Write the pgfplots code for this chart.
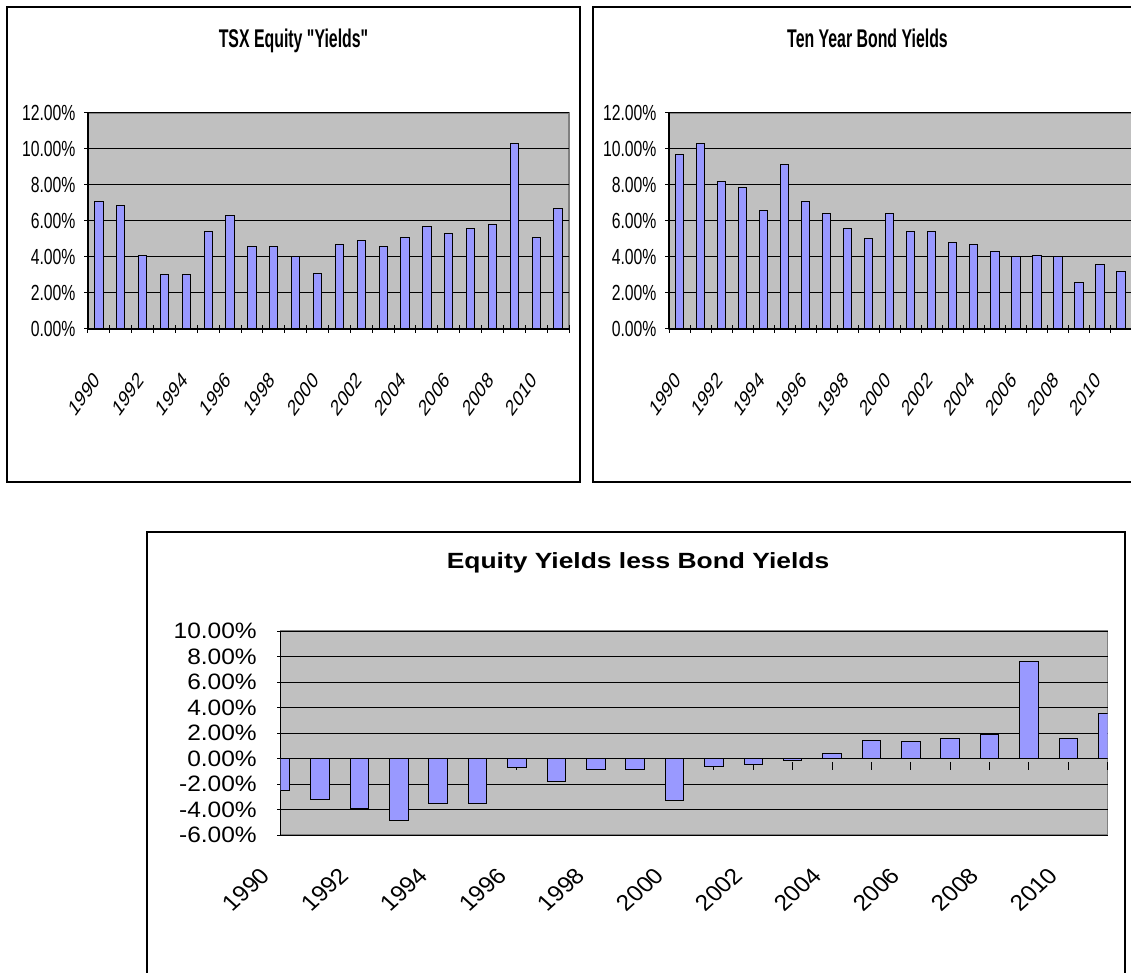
\documentclass[border=0pt]{standalone}
\usepackage{pgfplots}
\pgfplotsset{compat=1.18}
\usepackage{fontspec}
\setmainfont{Liberation Sans}
\newfontfamily\narrowfont[FakeStretch=0.72]{Liberation Sans}
\newfontfamily\titlenarrow[FakeStretch=0.62]{Liberation Sans}
\newfontfamily\widefont[FakeStretch=1.1]{Liberation Sans}
\newfontfamily\titlewide[FakeStretch=1.2]{Liberation Sans}
\definecolor{plotbg}{HTML}{C0C0C0}
\definecolor{barblue}{HTML}{9999FF}
\definecolor{bordergray}{HTML}{808080}

\pgfplotsset{
  excel/.style={
    scale only axis,
    axis background/.style={fill=plotbg, draw=bordergray, line width=1.1pt},
    axis line style={-, black, line width=0.9pt},
    ymajorgrids, grid style={black, line width=0.75pt},
    tick align=outside,
    tick style={black, line width=0.75pt},
    major tick length=5.5pt,
    hide obscured x ticks=false,
    hide obscured y ticks=false,
  },
  topchart/.style={
    excel,
    axis lines=left, axis line style={-},
    xmin=-0.5, xmax=21.5, ymin=0, ymax=12,
    xtick={-0.5,0.5,...,21.5}, xticklabels={},
    extra x ticks={0,2,...,20},
    extra x tick labels={1990,1992,1994,1996,1998,2000,2002,2004,2006,2008,2010},
    extra x tick style={major tick length=0pt},
    xticklabel style={font=\fontsize{16.8}{18}\selectfont, xshift=-4.5pt, yshift=-31pt, xscale=0.72, rotate=45, anchor=north east, inner sep=0pt},
    ytick={0,2,...,12},
    yticklabels={0.00\%,2.00\%,4.00\%,6.00\%,8.00\%,10.00\%,12.00\%},
    yticklabel style={font=\narrowfont\fontsize{16.4}{18}\selectfont, anchor=east, inner sep=0pt, xshift=-6.5pt},
  },
}

\begin{document}
\begin{tikzpicture}[x=0.75pt,y=0.75pt]
\useasboundingbox (0,0) rectangle (1131,972);
\clip (0,0) rectangle (1131,972);

% frames
\draw[line width=1.6pt] (7,965) rectangle (580,490);
\draw[line width=1.6pt] (593,965) rectangle (1142,490);
\draw[line width=1.6pt] (147,440) rectangle (1125,-30);

% titles
\node[anchor=base, inner sep=0pt, font=\titlenarrow\bfseries\fontsize{19.2}{22}\selectfont] at (293.5,924) {TSX Equity "Yields"};
\node[anchor=base, inner sep=0pt, font=\titlenarrow\bfseries\fontsize{19.2}{22}\selectfont] at (867.5,924) {Ten Year Bond Yields};
\node[anchor=base, inner sep=0pt, font=\titlewide\bfseries\fontsize{16.5}{19}\selectfont] at (638,403.7) {Equity Yields less Bond Yields};

% TSX equity yields
\begin{axis}[topchart, at={(66pt,482.25pt)}, anchor=south west, width=360.75pt, height=162pt]
\addplot[ybar, bar width=0.38, fill=barblue, draw=black, line width=0.75pt] coordinates {
(0,7.10) (1,6.87) (2,4.09) (3,3.00) (4,3.00) (5,5.44) (6,6.33) (7,4.56) (8,4.56) (9,4.00) (10,3.09)
(11,4.67) (12,4.91) (13,4.56) (14,5.11) (15,5.67) (16,5.33) (17,5.56) (18,5.78) (19,10.33) (20,5.11) (21,6.67)};
\end{axis}

% Ten year bond yields
\begin{axis}[topchart, at={(501.75pt,482.25pt)}, anchor=south west, width=346.7pt, height=162pt]
\addplot[ybar, bar width=0.41, fill=barblue, draw=black, line width=0.75pt] coordinates {
(0,9.67) (1,10.31) (2,8.22) (3,7.87) (4,6.57) (5,9.13) (6,7.11) (7,6.44) (8,5.56) (9,5.00) (10,6.44)
(11,5.44) (12,5.44) (13,4.78) (14,4.67) (15,4.33) (16,4.00) (17,4.11) (18,4.00) (19,2.56) (20,3.56) (21,3.22)};
\end{axis}

% Difference
\begin{axis}[excel, at={(210.525pt,102.75pt)}, anchor=south west, width=620.25pt, height=153pt,
  axis x line=middle, axis y line=left, axis line style={-},
  xmin=0, xmax=21, ymin=-6, ymax=10,
  xtick={0,...,21},
  xtick style={yshift=-5.5pt},
  xticklabels={1990,,1992,,1994,,1996,,1998,,2000,,2002,,2004,,2006,,2008,,2010,},
  xticklabel style={font=\fontsize{16.7}{19}\selectfont, xshift=-16pt, yshift=-77.8pt, xscale=1.1, rotate=45, anchor=north east, inner sep=0pt},
  ytick={-6,-4,...,10},
  yticklabels={-6.00\%,-4.00\%,-2.00\%,0.00\%,2.00\%,4.00\%,6.00\%,8.00\%,10.00\%},
  yticklabel style={font=\widefont\fontsize{16.7}{19}\selectfont, anchor=east, inner sep=0pt, xshift=-15pt},
]
\addplot[ybar, bar width=0.47, fill=barblue, draw=black, line width=0.75pt] coordinates {
(0,-2.51) (1,-3.21) (2,-3.96) (3,-4.87) (4,-3.52) (5,-3.52) (6,-0.73) (7,-1.78) (8,-0.89) (9,-0.89) (10,-3.26)
(11,-0.60) (12,-0.44) (13,-0.18) (14,0.41) (15,1.45) (16,1.32) (17,1.58) (18,1.87) (19,7.59) (20,1.58) (21,3.52)};
\end{axis}
\end{tikzpicture}
\end{document}
